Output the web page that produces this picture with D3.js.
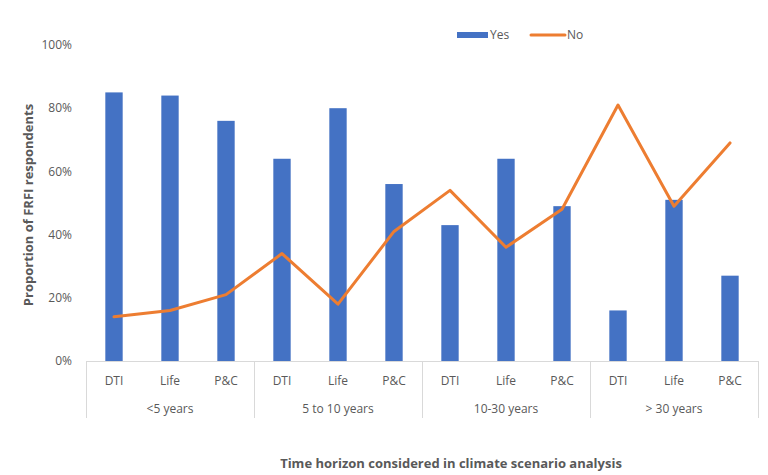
<!DOCTYPE html>
<html><head><meta charset="utf-8">
<script src="https://cdn.jsdelivr.net/npm/d3@7"></script>
<style>body{margin:0;background:#fff}svg{display:block}text{font-family:"Open Sans",Carlito,Calibri,sans-serif}</style>
</head><body><svg id="c" width="768" height="475"></svg>
<script>
const groups = ["<5 years","5 to 10 years","10-30 years","> 30 years"];
const sectors = ["DTI","Life","P&C"];
const yesValues = [85,84,76, 64,80,56, 43,64,49, 16,51,27];
const noValues  = [14,16,21, 34,18,41, 54,36,48, 81,49,69];
const yTicks = [0,20,40,60,80,100];

const svg = d3.select("#c");
const L = 86, R = 758, T = 45, B = 361;
const keys = [];
groups.forEach((g,gi)=>sectors.forEach((s,si)=>keys.push(gi+"|"+s)));
const x = d3.scaleBand().domain(keys).range([L,R]).paddingInner(0).paddingOuter(0);
const y = d3.scaleLinear().domain([0,100]).range([B,T]);
const gx = d3.scaleBand().domain(groups).range([L,R]);

// y tick labels
svg.append("g").selectAll("text").data(yTicks).join("text")
  .attr("x",72).attr("y",d=>y(d)).attr("dy","0.35em").attr("text-anchor","end")
  .attr("font-size",12).attr("fill","#595959").text(d=>d+"%");

// bars
const bw = x.bandwidth()*0.31;
svg.append("g").selectAll("rect").data(yesValues).join("rect")
  .attr("x",(d,i)=>x(keys[i])+x.bandwidth()/2-bw/2).attr("width",bw)
  .attr("y",d=>y(d)).attr("height",d=>B-y(d)).attr("fill","#4472C4");

// axis line and separators
svg.append("line").attr("x1",L).attr("x2",R).attr("y1",B+0.5).attr("y2",B+0.5).attr("stroke","#d9d9d9");
svg.append("g").selectAll("line").data(d3.range(groups.length+1)).join("line")
  .attr("x1",i=>Math.round(L+i*gx.bandwidth())+0.5).attr("x2",i=>Math.round(L+i*gx.bandwidth())+0.5)
  .attr("y1",B).attr("y2",418).attr("stroke","#d9d9d9");

// category labels
svg.append("g").selectAll("text").data(keys).join("text")
  .attr("x",d=>x(d)+x.bandwidth()/2).attr("y",381).attr("dy","0.35em").attr("text-anchor","middle")
  .attr("font-size",12).attr("fill","#595959").text(d=>d.split("|")[1]);
svg.append("g").selectAll("text").data(groups).join("text")
  .attr("x",d=>gx(d)+gx.bandwidth()/2).attr("y",409).attr("dy","0.35em").attr("text-anchor","middle")
  .attr("font-size",12).attr("fill","#595959").text(d=>d);

// line
const line = d3.line().x((d,i)=>x(keys[i])+x.bandwidth()/2).y(d=>y(d));
svg.append("path").datum(noValues).attr("d",line).attr("fill","none")
  .attr("stroke","#ED7D31").attr("stroke-width",3).attr("stroke-linejoin","round").attr("stroke-linecap","round");

// legend
svg.append("rect").attr("x",457).attr("y",32).attr("width",31).attr("height",6).attr("fill","#4472C4");
svg.append("text").attr("x",490).attr("y",35).attr("dy","0.35em").attr("font-size",12).attr("fill","#595959").text("Yes");
svg.append("line").attr("x1",531).attr("x2",565).attr("y1",35).attr("y2",35).attr("stroke","#ED7D31").attr("stroke-width",3).attr("stroke-linecap","round");
svg.append("text").attr("x",567).attr("y",35).attr("dy","0.35em").attr("font-size",12).attr("fill","#595959").text("No");

// axis titles
svg.append("text").attr("transform","translate(28,205) rotate(-90)").attr("text-anchor","middle").attr("dy","0.35em")
  .attr("font-size",13).attr("font-weight","bold").attr("fill","#595959").text("Proportion of FRFI respondents");
svg.append("text").attr("x",451).attr("y",463).attr("dy","0.35em").attr("text-anchor","middle")
  .attr("font-size",13).attr("font-weight","bold").attr("fill","#595959").text("Time horizon considered in climate scenario analysis");
</script></body></html>
